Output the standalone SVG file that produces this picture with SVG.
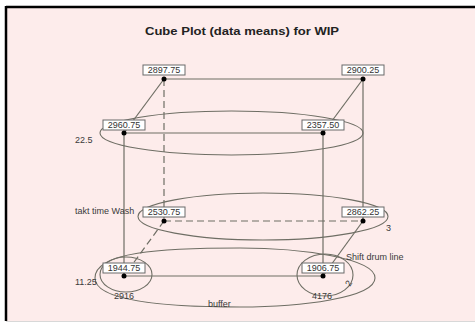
<svg xmlns="http://www.w3.org/2000/svg" width="475" height="323" viewBox="0 0 475 323">
<style>
.ln{stroke:#6e6e64;stroke-width:1.2;fill:none}
.ds{stroke:#6e6e64;stroke-width:1.2;fill:none;stroke-dasharray:7 4}
.el{stroke:#6e6e64;stroke-width:1.1;fill:none}
.box{fill:#ffffff;stroke:#6a6a6a;stroke-width:1}
.val{font-family:"Liberation Sans",Arial,sans-serif;font-size:9px;fill:#333;text-anchor:middle}
.lab{font-family:"Liberation Sans",Arial,sans-serif;font-size:9px;fill:#3a3a3a}
.title{font-family:"Liberation Sans",Arial,sans-serif;font-size:11px;font-weight:bold;fill:#222;text-anchor:middle}
.dot{fill:#000}
</style>
<rect x="0" y="0" width="475" height="323" fill="#ffffff"/>
<rect x="6" y="7" width="469" height="314" fill="#fdeceb"/>
<line x1="6" y1="7" x2="475" y2="7" stroke="#000" stroke-width="2.5"/>
<line x1="6" y1="6" x2="6" y2="321" stroke="#000" stroke-width="2.5"/>
<line x1="6" y1="321.5" x2="475" y2="321.5" stroke="#d8d8d8" stroke-width="1"/>
<text class="title" x="242" y="35" textLength="194" lengthAdjust="spacingAndGlyphs">Cube Plot (data means) for WIP</text>
<g id="connectors">
<line class="ln" x1="164" y1="79" x2="363" y2="79"/>
<line class="ln" x1="124" y1="133" x2="323" y2="133"/>
<line class="ln" x1="164" y1="79" x2="124" y2="133"/>
<line class="ln" x1="363" y1="79" x2="323" y2="133"/>
<line class="ds" x1="164" y1="79" x2="164" y2="221"/>
<line class="ln" x1="363" y1="79" x2="363" y2="221"/>
<line class="ln" x1="124" y1="133" x2="124" y2="276"/>
<line class="ln" x1="323" y1="133" x2="323" y2="276"/>
<line class="ds" x1="164" y1="221" x2="363" y2="221"/>
<line class="ds" x1="164" y1="221" x2="124" y2="276"/>
<line class="ln" x1="363" y1="221" x2="323" y2="276"/>
<line class="ln" x1="124" y1="276" x2="323" y2="276"/>
</g>
<g id="annotations">
<ellipse class="el" cx="231.5" cy="133" rx="131.5" ry="22"/>
<ellipse class="el" cx="263" cy="216.5" rx="125" ry="23.5"/>
<path class="el" d="M95,278 C95,252 160,248 240,248 C300,248 375,258 375,278 C375,298 300,307 240,307 C160,307 95,300 95,278 Z"/>
<ellipse class="el" cx="126" cy="274.5" rx="26" ry="17.5"/>
<ellipse class="el" cx="325" cy="275" rx="28" ry="21"/>
<text class="lab" x="75" y="143">22.5</text>
<text class="lab" x="75" y="214">takt time Wash</text>
<text class="lab" x="75" y="285">11.25</text>
<text class="lab" x="114" y="299">2916</text>
<text class="lab" x="208" y="307">buffer</text>
<text class="lab" x="386" y="231">3</text>
<text class="lab" x="346" y="260">Shift drum line</text>
<text class="lab" x="312" y="299">4176</text>
<text class="lab" x="0" y="0" transform="translate(350,287) rotate(-60)">2</text>
</g>
<g id="n2897"><rect class="box" x="143" y="65" width="42" height="10"/><text class="val" x="164" y="73">2897.75</text><circle class="dot" cx="164" cy="79" r="2.5"/></g>
<g id="n2900"><rect class="box" x="342" y="65" width="42" height="10"/><text class="val" x="363" y="73">2900.25</text><circle class="dot" cx="363" cy="79" r="2.5"/></g>
<g id="n2960"><rect class="box" x="103" y="120" width="42" height="10"/><text class="val" x="124" y="128">2960.75</text><circle class="dot" cx="124" cy="133" r="2.5"/></g>
<g id="n2357"><rect class="box" x="302" y="120" width="42" height="10"/><text class="val" x="323" y="128">2357.50</text><circle class="dot" cx="323" cy="133" r="2.5"/></g>
<g id="n2530"><rect class="box" x="143" y="207" width="42" height="10"/><text class="val" x="164" y="215">2530.75</text><circle class="dot" cx="164" cy="221" r="2.5"/></g>
<g id="n2862"><rect class="box" x="342" y="207" width="42" height="10"/><text class="val" x="363" y="215">2862.25</text><circle class="dot" cx="363" cy="221" r="2.5"/></g>
<g id="n1944"><rect class="box" x="103" y="263" width="42" height="10"/><text class="val" x="124" y="271">1944.75</text><circle class="dot" cx="124" cy="276" r="2.5"/></g>
<g id="n1906"><rect class="box" x="302" y="263" width="42" height="10"/><text class="val" x="323" y="271">1906.75</text><circle class="dot" cx="323" cy="276" r="2.5"/></g>
</svg>
